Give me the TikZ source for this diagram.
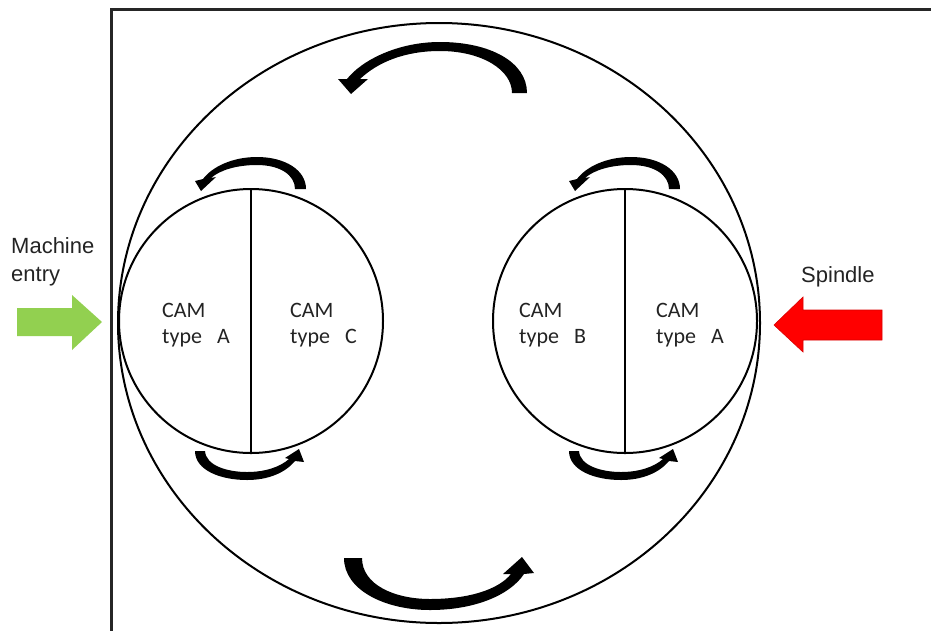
\documentclass[tikz,border=0pt]{standalone}
\usepackage{fontspec}
\setmainfont{Carlito}
\newfontfamily\arialf{Liberation Sans}
\usetikzlibrary{shapes.geometric}
\definecolor{entrygreen}{RGB}{146,208,80}
\definecolor{txtgray}{RGB}{35,35,35}
\begin{document}
\begin{tikzpicture}[x=1pt,y=-1pt,
  ring/.style={draw=black, line width=2pt, inner sep=0pt},
  camtxt/.style={anchor=base west, inner sep=0pt, text=txtgray, font=\fontsize{22}{26}\selectfont},
  sidetxt/.style={anchor=base west, inner sep=0pt, text=txtgray, font=\arialf\fontsize{22}{26}\selectfont},
  curv/.style={fill=black}]
\useasboundingbox (0,0) rectangle (931,630);
% frame
\draw[line width=3pt, black!85] (931,9) -- (111,9) -- (111,632);
% big ring and cams
\node[ring, ellipse, minimum width=642pt, minimum height=600pt] (big) at (439,323) {};
\node[ring, circle, minimum size=264pt] (L) at (251,321) {};
\node[ring, circle, minimum size=264pt] (R) at (625,321) {};
\draw[line width=2pt] (L.north) -- (L.south);
\draw[line width=2pt] (R.north) -- (R.south);
% texts
\node[camtxt] (l1a) at (162,317) {CAM};
\node[camtxt] (l1b) at (162,343) {type\hspace{15pt}A};
\node[camtxt] (l2a) at (290,317) {CAM};
\node[camtxt] (l2b) at (290,343) {type\hspace{15pt}C};
\node[camtxt] (r1a) at (519,317) {CAM};
\node[camtxt] (r1b) at (519,343) {type\hspace{15pt}B};
\node[camtxt] (r2a) at (656,317) {CAM};
\node[camtxt] (r2b) at (656,343) {type\hspace{15pt}A};
\node[sidetxt] (me1) at (11,253) {Machine};
\node[sidetxt] (me2) at (11,281) {entry};
\node[sidetxt] (sp) at (801,282) {Spindle};
% straight arrows
\fill[entrygreen] (17,308) -- (72,308) -- (72,295) -- (102,322) -- (72,350) -- (72,336) -- (17,336) -- cycle;
\filldraw[fill=red, draw=red!85!black, line width=0.6pt] (882,310) -- (803,310) -- (803,297) -- (774,325) -- (803,352) -- (803,340) -- (882,340) -- cycle;
% big curved arrows
\fill[curv] (527,93) .. controls (527,62) and (490,42) .. (440,42) .. controls (398,42) and (362,60) .. (347,79) -- (338,79) -- (351,94) -- (368,79) -- (360,79) .. controls (378,62) and (405,51) .. (440,51) .. controls (482,51) and (512,70) .. (512,93) -- cycle;
\fill[curv] (344,558) .. controls (344,590) and (385,610) .. (430,610) .. controls (475,610) and (510,595) .. (524,574) -- (534,573) -- (522,557) -- (503,574) -- (511,574) .. controls (498,590) and (468,599) .. (430,599) .. controls (395,599) and (362,585) .. (362,558) -- cycle;
% small curved arrows, left and right cams
\foreach \dx in {0,374}{
\begin{scope}[xshift=\dx pt]
\fill[curv] (306,189) .. controls (306,170) and (285,157) .. (257,157) .. controls (232,157) and (212,167) .. (203,179) -- (195,181) -- (201,191) -- (216,177) -- (211,178) .. controls (220,170) and (237,165) .. (257,165) .. controls (280,165) and (295,175) .. (295,189) -- cycle;
\fill[curv] (195,451) .. controls (195,470) and (220,480) .. (247,480) .. controls (268,480) and (285,473) .. (295,461) -- (304,462) -- (299,449) -- (285,458) -- (289,459) .. controls (280,467) and (265,472) .. (247,472) .. controls (228,472) and (206,466) .. (205,451) -- cycle;
\end{scope}}
\end{tikzpicture}
\end{document}
